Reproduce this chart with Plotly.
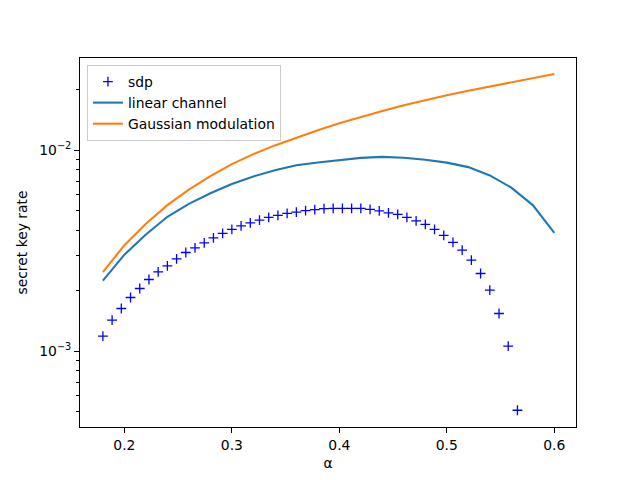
import plotly.graph_objects as go

# sdp points (alpha values: 46 evenly spaced points between 0.18 and ~0.566)
sdp_alpha = [0.18 + i * (0.42 / 49) for i in range(46)]
sdp_rate = [1.188e-3, 1.426e-3, 1.631e-3, 1.850e-3, 2.050e-3, 2.273e-3, 2.480e-3, 2.657e-3,
            2.879e-3, 3.097e-3, 3.265e-3, 3.457e-3, 3.661e-3, 3.850e-3, 4.031e-3, 4.201e-3,
            4.348e-3, 4.484e-3, 4.626e-3, 4.732e-3, 4.843e-3, 4.914e-3, 5.000e-3, 5.058e-3,
            5.117e-3, 5.129e-3, 5.129e-3, 5.129e-3, 5.129e-3, 5.070e-3, 4.989e-3, 4.876e-3,
            4.786e-3, 4.626e-3, 4.449e-3, 4.269e-3, 4.031e-3, 3.763e-3, 3.473e-3, 3.180e-3,
            2.836e-3, 2.434e-3, 2.011e-3, 1.540e-3, 1.059e-3, 5.086e-4]

curve_alpha = [0.18, 0.20, 0.22, 0.24, 0.26, 0.28, 0.30, 0.32, 0.34, 0.36, 0.38,
               0.40, 0.42, 0.44, 0.46, 0.48, 0.50, 0.52, 0.54, 0.56, 0.58, 0.60]
linear_rate = [2.242e-3, 3.020e-3, 3.807e-3, 4.662e-3, 5.400e-3, 6.097e-3, 6.789e-3, 7.398e-3,
               7.943e-3, 8.403e-3, 8.676e-3, 8.937e-3, 9.145e-3, 9.251e-3, 9.167e-3, 8.959e-3,
               8.666e-3, 8.230e-3, 7.483e-3, 6.508e-3, 5.327e-3, 3.878e-3]
gauss_rate = [2.472e-3, 3.368e-3, 4.308e-3, 5.326e-3, 6.361e-3, 7.424e-3, 8.518e-3, 9.552e-3,
              1.0553e-2, 1.1554e-2, 1.2560e-2, 1.3581e-2, 1.4610e-2, 1.5650e-2, 1.6690e-2,
              1.7711e-2, 1.8731e-2, 1.9748e-2, 2.0747e-2, 2.1745e-2, 2.2735e-2, 2.3884e-2]

y_major = [1e-3, 1e-2]
y_major_text = ["10<sup>\u22123</sup>", "10<sup>\u22122</sup>"]
y_minor = [5e-4, 6e-4, 7e-4, 8e-4, 9e-4, 2e-3, 3e-3, 4e-3, 5e-3, 6e-3, 7e-3, 8e-3, 9e-3, 2e-2]
x_ticks = [0.2, 0.3, 0.4, 0.5, 0.6]

FONT = "DejaVu Sans"

fig = go.Figure()
fig.add_trace(go.Scatter(
    x=sdp_alpha, y=sdp_rate, mode="markers", name="sdp",
    marker=dict(symbol="cross-thin", size=7, color="#0000ff",
                line=dict(color="#0000ff", width=1.3)),
))
fig.add_trace(go.Scatter(
    x=curve_alpha, y=linear_rate, mode="lines", name="linear channel",
    line=dict(color="#1f77b4", width=2.1),
))
fig.add_trace(go.Scatter(
    x=curve_alpha, y=gauss_rate, mode="lines", name="Gaussian modulation",
    line=dict(color="#ff7f0e", width=2.1),
))

fig.update_layout(
    width=640, height=480,
    margin=dict(l=80, r=64, t=58, b=53),
    paper_bgcolor="white", plot_bgcolor="white",
    font=dict(family=FONT, size=13.9, color="black"),
    showlegend=True,
    legend=dict(
        x=0.014, y=0.981, xanchor="left", yanchor="top",
        bgcolor="rgba(255,255,255,0.8)", bordercolor="#cccccc", borderwidth=1,
        font=dict(family=FONT, size=13.9, color="black"),
        itemwidth=30,
    ),
    xaxis=dict(
        range=[0.1587, 0.6202],
        tickvals=x_ticks, ticktext=[str(v) for v in x_ticks],
        showgrid=False, zeroline=False,
        showline=True, mirror=True, linecolor="black", linewidth=1.1,
        ticks="outside", ticklen=4.9, tickwidth=1.1, tickcolor="black",
        title=dict(text="\u03b1", standoff=6, font=dict(family=FONT, size=13.9)),
    ),
    yaxis=dict(
        type="log",
        range=[-3.3768, -1.5421],
        tickvals=y_major, ticktext=y_major_text,
        showgrid=False, zeroline=False,
        showline=True, mirror=True, linecolor="black", linewidth=1.1,
        ticks="outside", ticklen=4.9, tickwidth=1.1, tickcolor="black",
        minor=dict(tickvals=y_minor, ticks="outside", ticklen=2.8, tickwidth=0.8,
                   tickcolor="black", showgrid=False),
        title=dict(text="secret key rate", standoff=8, font=dict(family=FONT, size=13.9)),
    ),
)

fig.write_html("out.html")
